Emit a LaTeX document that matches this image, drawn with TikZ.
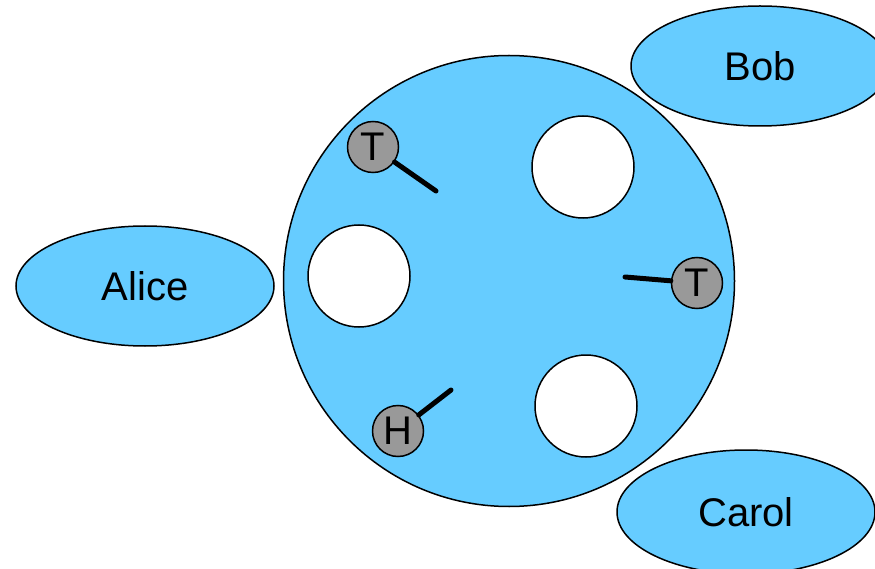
\documentclass[tikz,border=0pt]{standalone}
\usepackage{fontspec}
\setmainfont{Liberation Sans}
\usetikzlibrary{shapes.geometric}
\definecolor{skyfill}{HTML}{66CCFF}
\definecolor{coingray}{HTML}{999999}
\tikzset{
  person/.style={ellipse,draw=black,line width=1.5pt,fill=skyfill,minimum width=258pt,minimum height=120pt,inner sep=0pt,font=\fontsize{40}{42}\selectfont},
  hole/.style={circle,draw=black,line width=1.5pt,fill=white,minimum size=102pt,inner sep=0pt},
  coin/.style={circle,draw=black,line width=1.5pt,fill=coingray,minimum size=51pt,inner sep=0pt,font=\fontsize{40}{42}\selectfont},
  stick/.style={line width=5pt,line cap=round}
}
\begin{document}
\begin{tikzpicture}[x=1pt,y=-1pt]
\useasboundingbox (0,0) rectangle (875,569);
\node[circle,draw=black,line width=1.5pt,fill=skyfill,minimum size=451pt,inner sep=0pt] (table) at (509,281) {};
\node[hole] (h1) at (583,167) {};
\node[hole] (h2) at (359,276) {};
\node[hole] (h3) at (586,406) {};
\coordinate (s1) at (436,191);
\coordinate (s2) at (625,277);
\coordinate (s3) at (451,390);
\node[coin] (c1) at (373,147) {T};
\node[coin] (c2) at (697,283) {T};
\node[coin] (c3) at (398,431) {H};
\draw[stick] (c1) -- (s1);
\draw[stick] (c2) -- (s2);
\draw[stick] (c3) -- (s3);
\node[person] (alice) at (145,286) {Alice};
\node[person] (bob) at (760,66) {Bob};
\node[person,minimum height=124pt] (carol) at (746,512) {Carol};
\end{tikzpicture}
\end{document}
